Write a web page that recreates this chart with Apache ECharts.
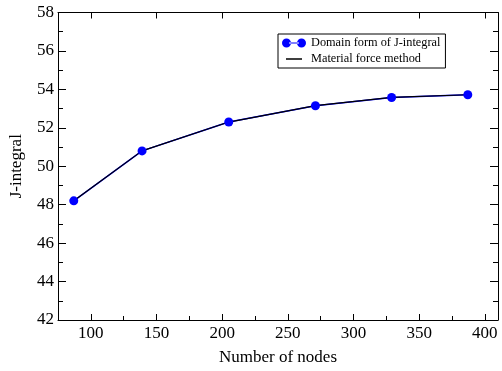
<!DOCTYPE html>
<html><head><meta charset="utf-8">
<script src="https://cdn.jsdelivr.net/npm/echarts@6/dist/echarts.min.js"></script>
<style>html,body{margin:0;padding:0;background:#fff}#c{width:502px;height:371px}</style>
</head><body><div id="c"></div>
<script>
const nodes = [87, 139, 205, 271, 329, 387];
const domainJ = [48.2, 50.8, 52.3, 53.15, 53.58, 53.72];
const materialForce = [48.2, 50.8, 52.3, 53.15, 53.58, 53.72];
const xMajor = [100, 150, 200, 250, 300, 350, 400];
const xMinor = [125, 175, 225, 275, 325, 375];
const font = 'Liberation Serif';

const chart = echarts.init(document.getElementById('c'));
const baseX = {type:'value', min:75, max:410, splitLine:{show:false}};
chart.setOption({
  animation:false,
  backgroundColor:'#fff',
  grid:{left:58, right:4, top:12.5, bottom:51, show:false},
  legend:{
    orient:'vertical', left:278, top:34, padding:[3,5,3,4], itemGap:4,
    itemWidth:24, itemHeight:10, borderColor:'#000', borderWidth:1, borderRadius:0,
    textStyle:{fontFamily:font, fontSize:12.3, color:'#000', lineHeight:12},
    data:[
      {name:'Domain form of J-integral', icon:'path://M0,5 a4.5,4.5 0 1,0 9,0 a4.5,4.5 0 1,0 -9,0 Z M7,4.4 L17,4.4 L17,5.6 L7,5.6 Z M15,5 a4.5,4.5 0 1,0 9,0 a4.5,4.5 0 1,0 -9,0 Z'},
      {name:'Material force method', icon:'path://M0,0 L0.01,0 L0.01,0.01 Z M24,10 L23.99,10 L23.99,9.99 Z M4,4.3 L20,4.3 L20,5.7 L4,5.7 Z'}
    ]
  },
  xAxis:[
    Object.assign({}, baseX, {position:'bottom', name:'Number of nodes', nameLocation:'middle', nameGap:29,
      nameTextStyle:{fontFamily:font, fontSize:17, color:'#000'},
      axisLine:{show:true, lineStyle:{color:'#000', width:1}},
      axisTick:{show:true, inside:true, length:6, customValues:xMajor, lineStyle:{color:'#000'}},
      axisLabel:{show:true, customValues:xMajor, margin:5, fontFamily:font, fontSize:17, color:'#000'}}),
    Object.assign({}, baseX, {position:'bottom',
      axisLine:{show:false}, axisLabel:{show:false},
      axisTick:{show:true, inside:true, length:4, customValues:xMinor, lineStyle:{color:'#000'}}}),
    Object.assign({}, baseX, {position:'top',
      axisLine:{show:true, lineStyle:{color:'#000', width:1}}, axisLabel:{show:false},
      axisTick:{show:true, inside:true, length:6, customValues:xMajor, lineStyle:{color:'#000'}}})
  ],
  yAxis:[
    {type:'value', position:'left', min:42, max:58, interval:2, splitLine:{show:false},
      name:'J-integral', nameLocation:'middle', nameGap:33,
      nameTextStyle:{fontFamily:font, fontSize:17, color:'#000'},
      axisLine:{show:true, lineStyle:{color:'#000', width:1}},
      axisTick:{show:true, inside:true, length:8, lineStyle:{color:'#000'}},
      minorTick:{show:true, splitNumber:2, length:5, lineStyle:{color:'#000'}},
      axisLabel:{margin:4, fontFamily:font, fontSize:17, color:'#000'}},
    {type:'value', position:'right', min:42, max:58, interval:2, splitLine:{show:false},
      axisLine:{show:true, lineStyle:{color:'#000', width:1}},
      axisTick:{show:true, inside:true, length:8, lineStyle:{color:'#000'}},
      minorTick:{show:true, splitNumber:2, length:5, lineStyle:{color:'#000'}},
      axisLabel:{show:false}}
  ],
  series:[
    {name:'Domain form of J-integral', type:'line', xAxisIndex:0, yAxisIndex:0,
      data:nodes.map((x,i)=>[x, domainJ[i]]), symbol:'circle', symbolSize:9,
      itemStyle:{color:'#0000ff'}, lineStyle:{color:'#0000ff', width:1.5}},
    {name:'Material force method', type:'line', xAxisIndex:0, yAxisIndex:0,
      data:nodes.map((x,i)=>[x, materialForce[i]]), symbol:'none',
      itemStyle:{color:'#000'}, lineStyle:{color:'#000', width:1.2}}
  ]
});
</script></body></html>
